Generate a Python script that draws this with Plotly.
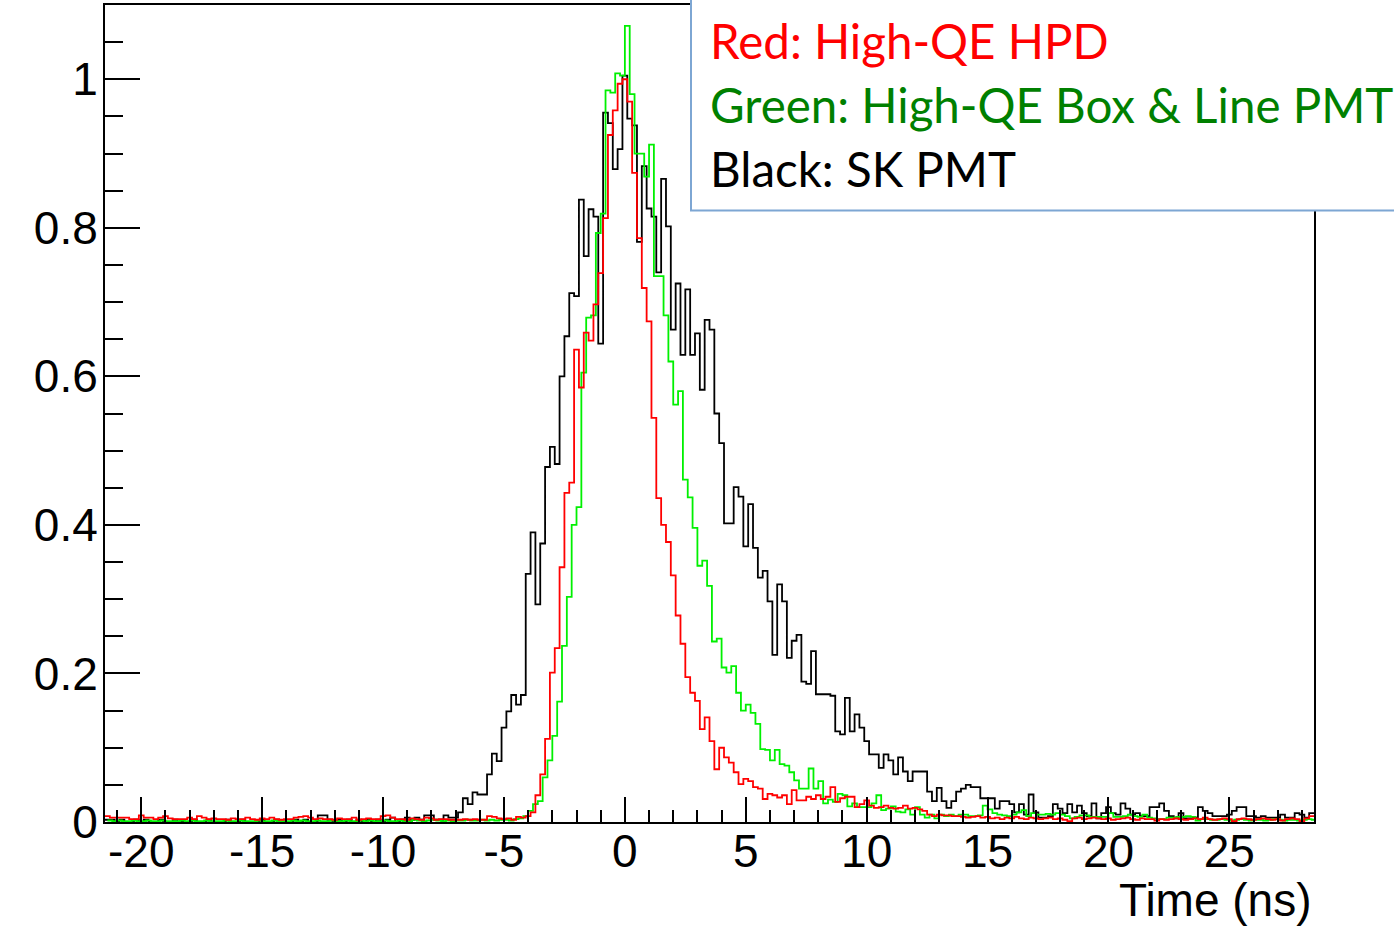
import numpy as np
import plotly.graph_objects as go

# 0.2 ns bins; black and red share binning, green is offset by half a bin
BIN_W = 0.2
black_red_lo = -21.5
green_lo = -21.4

black = [
    0.003, 0.003, 0.0, 0.003, 0.0, 0.0, 0.003, 0.0, 0.003, 0.0,
    0.0, 0.003, 0.0, 0.0, 0.003, 0.0, 0.0, 0.0, 0.003, 0.0,
    0.0, 0.003, 0.0, 0.0, 0.0, 0.003, 0.0, 0.0, 0.003, 0.0,
    0.0, 0.0, 0.003, 0.0, 0.0, 0.003, 0.0, 0.0, 0.0, 0.003,
    0.0, 0.003, 0.0, 0.0, 0.009, 0.009, 0.003, 0.0, 0.003, 0.0,
    0.003, 0.0, 0.003, 0.0, 0.003, 0.0, 0.003, 0.0, 0.003, 0.006,
    0.0, 0.003, 0.006, 0.003, 0.006, 0.003,
    0.009, 0.009, 0.003, 0.003, 0.009, 0.006, 0.006, 0.013, 0.032, 0.024,
    0.040, 0.037, 0.037, 0.064, 0.092, 0.082, 0.127, 0.149, 0.171, 0.158,
    0.171, 0.334, 0.390, 0.293, 0.375, 0.478, 0.505, 0.482, 0.600, 0.654,
    0.712, 0.708, 0.838, 0.762, 0.825, 0.815, 0.644, 0.955, 0.941, 0.879,
    0.906, 1.005, 0.947, 0.938, 0.781, 0.883, 0.826, 0.815, 0.740, 0.866,
    0.802, 0.663, 0.725, 0.629, 0.717, 0.629, 0.658, 0.582, 0.676, 0.663,
    0.550, 0.510, 0.402, 0.402, 0.451, 0.438, 0.371, 0.428, 0.369, 0.329,
    0.338, 0.297, 0.225, 0.320, 0.297, 0.221, 0.244, 0.252, 0.189, 0.186,
    0.230, 0.172, 0.172, 0.172, 0.170, 0.122, 0.118, 0.167, 0.122, 0.145,
    0.127, 0.109, 0.091, 0.091, 0.073, 0.091, 0.083, 0.064, 0.087, 0.068,
    0.055, 0.068, 0.068, 0.068, 0.041, 0.028, 0.046, 0.028, 0.019, 0.028,
    0.041, 0.045, 0.050, 0.047, 0.047, 0.032, 0.032, 0.032, 0.018, 0.028,
    0.028, 0.024, 0.013, 0.024, 0.010, 0.037, 0.013, 0.006, 0.006, 0.008,
    0.024, 0.018, 0.012, 0.024, 0.013, 0.022, 0.012, 0.008, 0.025, 0.005,
    0.012, 0.020, 0.012, 0.010, 0.025, 0.018, 0.010, 0.012, 0.008, 0.008,
    0.020, 0.020, 0.025, 0.015, 0.008, 0.005, 0.012, 0.005, 0.005, 0.006,
    0.020, 0.015, 0.012, 0.008, 0.008, 0.008, 0.010, 0.015, 0.020, 0.020,
    0.008, 0.008, 0.006, 0.008, 0.006, 0.006, 0.006, 0.010, 0.006, 0.006,
    0.012, 0.010, 0.006, 0.012,
]

red = [
    0.008, 0.006, 0.006, 0.006, 0.006, 0.004, 0.004, 0.009, 0.006, 0.006,
    0.004, 0.006, 0.008, 0.005, 0.004, 0.004, 0.004, 0.006, 0.004, 0.008,
    0.006, 0.004, 0.005, 0.004, 0.004, 0.003, 0.005, 0.004, 0.004, 0.006,
    0.004, 0.003, 0.005, 0.004, 0.006, 0.004, 0.003, 0.004, 0.004, 0.006,
    0.007, 0.008, 0.006, 0.004, 0.005, 0.004, 0.004, 0.003, 0.005, 0.004,
    0.004, 0.006, 0.003, 0.004, 0.005, 0.004, 0.004, 0.008, 0.009, 0.006,
    0.004, 0.004, 0.003, 0.005, 0.004, 0.003, 0.006, 0.005, 0.003, 0.004,
    0.004, 0.003, 0.003, 0.003, 0.004, 0.003, 0.004, 0.003, 0.003, 0.008,
    0.007, 0.005, 0.004, 0.005, 0.003, 0.007, 0.006,
    0.008, 0.013, 0.036, 0.064, 0.112, 0.201, 0.234, 0.343, 0.443,
    0.457, 0.636, 0.585, 0.659, 0.648, 0.697, 0.739, 0.813, 0.925, 0.958,
    0.994, 1.000, 0.970, 0.874, 0.786, 0.719, 0.674, 0.544, 0.436, 0.400,
    0.377, 0.332, 0.278, 0.240, 0.195, 0.174, 0.163, 0.125, 0.141, 0.109,
    0.071, 0.100, 0.087, 0.080, 0.067, 0.051, 0.058, 0.055, 0.047, 0.045,
    0.031, 0.038, 0.036, 0.033, 0.036, 0.024, 0.043, 0.029, 0.029, 0.034,
    0.031, 0.036, 0.031, 0.034, 0.047, 0.027, 0.032, 0.034, 0.034, 0.020,
    0.024, 0.029, 0.022, 0.019, 0.020, 0.022, 0.019, 0.018, 0.019, 0.022,
    0.018, 0.019, 0.017, 0.015, 0.010, 0.008, 0.010, 0.009, 0.009, 0.008,
    0.008, 0.007, 0.006,
    0.007, 0.008, 0.006, 0.007, 0.005, 0.006, 0.004, 0.006, 0.005, 0.007,
    0.005, 0.004, 0.006, 0.005, 0.004, 0.005, 0.006, 0.004, 0.005, 0.003,
    0.001, 0.005, 0.006, 0.004, 0.005, 0.006, 0.005, 0.004, 0.005, 0.003,
    0.004, 0.005, 0.006, 0.004, 0.003, 0.005, 0.004, 0.004, 0.002, 0.004,
    0.003, 0.004, 0.005, 0.004, 0.003, 0.004, 0.005, 0.004, 0.006, 0.004,
    0.003, 0.004, 0.005, 0.004, 0.001, 0.004, 0.005, 0.004, 0.003, 0.004,
    0.005, 0.004, 0.003, 0.004, 0.002, 0.004, 0.005, 0.004, 0.001, 0.005,
    0.008,
]

green = [
    0.002, 0.001, 0.002, 0.001, 0.001, 0.002, 0.001, 0.001, 0.002, 0.001,
    0.001, 0.002, 0.001, 0.001, 0.001, 0.002, 0.001, 0.002, 0.001, 0.001,
    0.002, 0.001, 0.001, 0.001, 0.002, 0.001, 0.001, 0.002, 0.001, 0.001,
    0.001, 0.002, 0.001, 0.001, 0.002, 0.001, 0.001, 0.001, 0.002, 0.001,
    0.002, 0.001, 0.001, 0.002, 0.001, 0.001, 0.002, 0.001, 0.001, 0.002,
    0.001, 0.001, 0.002, 0.001, 0.002, 0.001, 0.001, 0.002, 0.001, 0.001,
    0.002, 0.001, 0.001, 0.003, 0.002, 0.001, 0.002, 0.003, 0.002, 0.001,
    0.002, 0.001, 0.002, 0.002, 0.003, 0.002, 0.002, 0.003, 0.002, 0.003,
    0.002, 0.003, 0.003, 0.002, 0.004, 0.005, 0.008,
    0.015, 0.024, 0.028, 0.060, 0.083, 0.116, 0.162, 0.237, 0.303,
    0.400, 0.424, 0.605, 0.679, 0.682, 0.793, 0.819, 0.985, 0.982, 1.008,
    1.005, 1.072, 0.980, 0.900, 0.900, 0.869, 0.912, 0.735, 0.735, 0.682,
    0.620, 0.562, 0.580, 0.461, 0.437, 0.396, 0.345, 0.352, 0.318, 0.243,
    0.247, 0.208, 0.201, 0.210, 0.174, 0.150, 0.158, 0.147, 0.132, 0.098,
    0.097, 0.083, 0.097, 0.078, 0.076, 0.067, 0.056, 0.045, 0.045, 0.072,
    0.045, 0.055, 0.025, 0.030, 0.027, 0.038, 0.036, 0.021, 0.025, 0.020,
    0.020, 0.020, 0.025, 0.036, 0.016, 0.018, 0.021, 0.014, 0.013, 0.017,
    0.010, 0.020, 0.010, 0.006, 0.010, 0.005, 0.010, 0.008, 0.010, 0.008,
    0.010, 0.010, 0.008, 0.008, 0.009, 0.022, 0.017, 0.012, 0.010, 0.009,
    0.008, 0.010, 0.013, 0.016, 0.008, 0.012, 0.010, 0.010, 0.011, 0.010,
    0.012, 0.010, 0.008, 0.005, 0.007, 0.009, 0.009, 0.007, 0.007, 0.007,
    0.007, 0.012, 0.007, 0.007, 0.008, 0.010, 0.008, 0.007, 0.010, 0.006,
    0.005, 0.004, 0.004, 0.006, 0.006, 0.007, 0.007, 0.008, 0.007, 0.002,
    0.004, 0.004, 0.003,
    0.003, 0.004, 0.003, 0.002, 0.003, 0.004, 0.003, 0.002, 0.003, 0.003,
    0.002, 0.003, 0.004, 0.003, 0.002, 0.003, 0.003, 0.002, 0.003, 0.004,
    0.003,
]

x_ticks = [-20, -15, -10, -5, 0, 5, 10, 15, 20, 25]
x_tick_text = [str(v) for v in x_ticks]  # plain hyphen like ROOT

legend_lines = [
    ("Red: High-QE HPD", "#ff0000"),
    ("Green: High-QE Box &amp; Line PMT", "#008000"),
    ("Black: SK PMT", "#000000"),
]


def step_xy(lo, vals):
    edges = lo + BIN_W * np.arange(len(vals) + 1)
    return edges, list(vals) + [vals[-1]]


fig = go.Figure()
for lo, vals, col in [(black_red_lo, black, "black"),
                      (green_lo, green, "#00f000"),
                      (black_red_lo, red, "#ff0000")]:
    xs, ys = step_xy(lo, vals)
    fig.add_trace(go.Scatter(x=xs, y=ys, mode="lines", hoverinfo="skip",
                             line=dict(color=col, width=1.8, shape="hv")))

tick_font = dict(family="Liberation Sans, Arial, sans-serif", size=46, color="black")

fig.update_xaxes(
    range=[-21.5, 28.5], showgrid=False, zeroline=False,
    showline=True, linecolor="black", linewidth=2, mirror=True,
    ticks="inside", ticklen=25, tickwidth=2, tickcolor="black",
    tickmode="array", tickvals=x_ticks, ticktext=x_tick_text,
    tickfont=tick_font, ticklabelstandoff=-12,
    minor=dict(ticks="inside", ticklen=12, tickwidth=2, tickcolor="black",
               dtick=1, tick0=0, showgrid=False),
)
fig.update_yaxes(
    range=[0, 1.1], showgrid=False, zeroline=False,
    showline=True, linecolor="black", linewidth=2, mirror=True,
    ticks="inside", ticklen=35, tickwidth=2, tickcolor="black",
    dtick=0.2, tick0=0, tickfont=tick_font, ticklabelstandoff=-4,
    minor=dict(ticks="inside", ticklen=18, tickwidth=2, tickcolor="black",
               dtick=0.05, tick0=0, showgrid=False),
)

# legend text box pasted over the top right of the frame
fig.add_shape(type="rect", xref="paper", yref="paper",
              x0=0.4847, x1=1.08, y0=0.7485, y1=1.02,
              fillcolor="white", line=dict(color="#7da6d3", width=2), layer="above")
for i, (txt, col) in enumerate(legend_lines):
    fig.add_annotation(xref="paper", yref="paper", x=0.4988, y=0.9560 - i * 0.0781,
                       xanchor="left", yanchor="middle", showarrow=False, text=txt,
                       font=dict(family="Lato, Noto Sans, sans-serif", size=47.5, color=col))

fig.add_annotation(xref="paper", yref="paper", x=1.0, y=-0.0952,
                   xanchor="right", yanchor="middle", showarrow=False,
                   text="Time (ns)", font=tick_font)

fig.update_layout(width=1394, height=934, showlegend=False,
                  margin=dict(l=105, r=80, t=3, b=112),
                  plot_bgcolor="white", paper_bgcolor="white")

# drop the default page margin so the figure sits at the window's corner
fig.write_html("out.html", config={"displayModeBar": False},
               post_script="document.body.style.margin='0';document.body.style.padding='0';")
